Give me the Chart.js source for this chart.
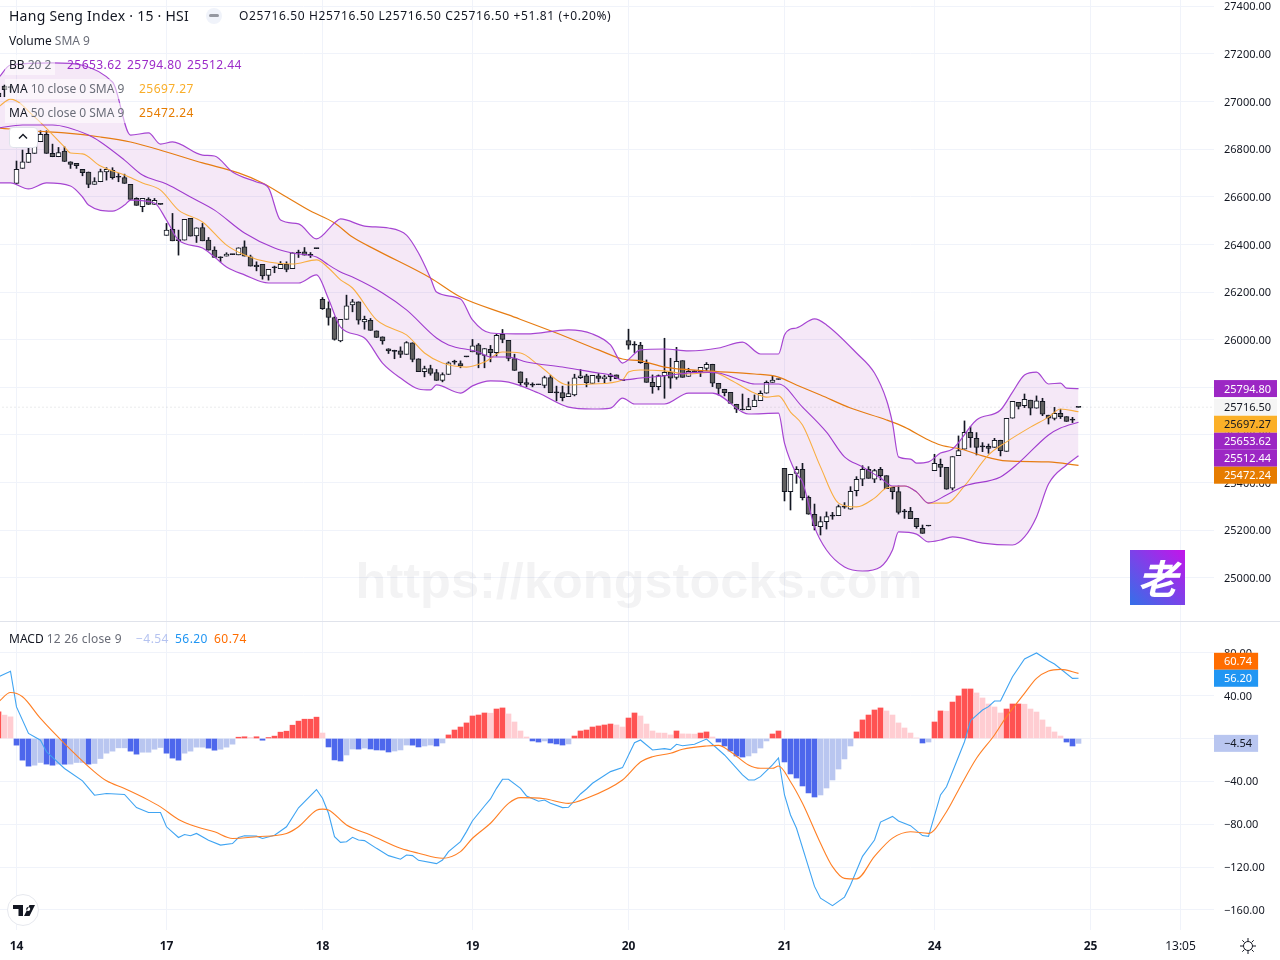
<!DOCTYPE html>
<html>
<head>
<meta charset="utf-8">
<title>Hang Seng Index</title>
<script src="https://cdn.jsdelivr.net/npm/chart.js@4/dist/chart.umd.min.js"></script>
<style>
  html, body { margin: 0; padding: 0; background: #fff; overflow: hidden; }
  body { width: 1280px; height: 960px; position: relative; font-family: "Noto Sans", sans-serif; color: #131722; }
  canvas { position: absolute; left: 0; }
  #mainChart { top: 0; }
  #macdChart { top: 622px; }
  .divider { position: absolute; left: 0; top: 621px; width: 1280px; height: 1px; background: #e0e3eb; }
  .row { position: absolute; white-space: nowrap; font-size: 12px; line-height: 20px; height: 20px; }
  .row .dim { color: #6a6d78; }
  .fade { background: rgba(255,255,255,.55); padding: 0 4px; margin-left: -4px; display: inline-block; }
  .title { font-size: 14px; letter-spacing: .25px; }
  .num { letter-spacing: .45px; }
  .bb { color: #9c2ac8; }
  .collapse { position: absolute; left: 9px; top: 127px; width: 27px; height: 19px; background: #fff; border: 1px solid #e0e3eb; border-radius: 4px; }
  .collapse svg { position: absolute; left: 8px; top: 5px; }
  .dash { position: absolute; left: 206px; top: 8px; width: 16px; height: 16px; border-radius: 50%; background: #f0f3fa; }
  .dash i { position: absolute; left: 3px; top: 6px; width: 10px; height: 3px; border-radius: 2px; background: #9598a1; }
  .logo { position: absolute; left: 1130px; top: 550px; width: 55px; height: 55px; background: linear-gradient(45deg, #3470e8, #c414ea); color: #fff; font: 700 40px/55px "Noto Sans CJK SC", sans-serif; text-align: center; font-style: italic; }
  .tv { position: absolute; left: 6px; top: 893px; }
  .gear { position: absolute; left: 1239px; top: 937px; }
</style>
</head>
<body>
<canvas id="mainChart" width="1280" height="621"></canvas>
<div class="divider"></div>
<canvas id="macdChart" width="1280" height="338"></canvas>

<div class="row title" style="left:9px;top:6px">Hang Seng Index · 15 · HSI</div>
<div class="dash"><i></i></div>
<div class="row num" style="left:239px;top:6px;letter-spacing:.62px">O25716.50 H25716.50 L25716.50 C25716.50 +51.81 (+0.20%)</div>
<div class="row" style="left:9px;top:31px">Volume <span class="dim">SMA 9</span></div>
<div class="row" style="left:9px;top:55px"><span class="fade">BB <span class="dim">20 2</span></span><span class="bb num" style="position:absolute;left:58px">25653.62</span><span class="bb num" style="position:absolute;left:118px">25794.80</span><span class="bb num" style="position:absolute;left:178px">25512.44</span></div>
<div class="row" style="left:9px;top:79px"><span class="fade">MA <span class="dim">10 close 0 SMA 9</span></span><span class="num" style="color:#f9ae2a;position:absolute;left:130px">25697.27</span></div>
<div class="row" style="left:9px;top:103px"><span class="fade">MA <span class="dim">50 close 0 SMA 9</span></span><span class="num" style="color:#e67c00;position:absolute;left:130px">25472.24</span></div>
<div class="collapse"><svg width="10" height="7" viewBox="0 0 10 7"><path d="M1 5.5 L5 1.5 L9 5.5" fill="none" stroke="#131722" stroke-width="1.4"/></svg></div>
<div class="row" style="left:9px;top:629px">MACD <span class="dim" style="letter-spacing:.2px">12 26 close 9</span><span class="num" style="color:#b5c3f0;position:absolute;left:127px">−4.54</span><span class="num" style="color:#2196f3;position:absolute;left:166px">56.20</span><span class="num" style="color:#ff6d00;position:absolute;left:205px">60.74</span></div>

<div class="logo">老</div>
<svg class="tv" width="34" height="34" viewBox="0 0 34 34">
  <circle cx="17" cy="17" r="15.5" fill="#fff" stroke="#e6e8ee" stroke-width="1"/>
  <path d="M7 12 H17 V23 H12.5 V16 H7 Z M22.2 14 a2 2 0 1 0 .01 0 Z M23.5 12 H29 L23.5 23 H18 Z" fill="#131722"/>
</svg>
<svg class="gear" width="18" height="18" viewBox="0 0 18 18" fill="none" stroke="#131722" stroke-width="1">
  <circle cx="9" cy="9" r="4.5"/>
  <path d="M9 1v3M9 14v3M1 9h3M14 9h3M3.3 3.3l2.1 2.1M12.6 12.6l2.1 2.1M3.3 14.7l2.1-2.1M12.6 5.4l2.1-2.1"/>
</svg>

<script>
// bar number 0 is the first bar of the "14" session
const firstBar = -3

const opens = [27035,27065,27062,
  26656,26719,26744,26782,26831,26862,26782,26768,26792,26747,
  26740,26715,26704,26652,26663,26704,26711,26686,26680,26652,
  26593,26558,26590,26568,26570,26438,26463,26420,26418,26509,
  26436,26471,26418,26376,26348,26351,26359,26356,26390,26348,
  26313,26316,26270,26304,26298,26316,26298,26366,26369,26356,
  26384,26169,26131,26093,25995,26085,26146,26159,26075,26081,
  26037,26012,25962,25955,25953,25938,25987,25920,25866,25879,
  25862,25829,25854,25908,25900,25930,25949,25978,25934,25959,
  25945,26022,25997,25921,25865,25820,25811,25813,25808,25841,
  25779,25778,25761,25768,25841,25848,25816,25848,25836,25845,
  25852,25830,25996,25979,25977,25901,25821,25803,25849,25863,
  25842,25912,25846,25867,25866,25879,25897,25817,25792,25779,
  25729,25707,25706,25719,25744,25775,25821,25835,25460,25362,
  25439,25456,25338,25267,25215,25236,25261,25261,25300,25288,
  25366,25414,25456,25414,25456,25429,25380,25362,25279,25279,
  25250,25208,25220,25450,25477,25464,25377,25513,25540,25611,
  25586,25552,25552,25548,25578,25531,25670,25737,25723,25746,
  25712,25741,25683,25669,25691,25677,25664,25716.5]
const highs = [27045,27069,27064,
  26750,26796,26824,26866,26877,26877,26821,26807,26810,26747,
  26740,26715,26704,26680,26716,26722,26722,26698,26695,26652,
  26596,26593,26596,26593,26570,26488,26530,26460,26505,26509,
  26470,26488,26429,26390,26348,26365,26359,26386,26415,26355,
  26327,26316,26295,26309,26328,26327,26365,26376,26387,26366,
  26384,26177,26159,26096,26085,26187,26169,26159,26099,26089,
  26037,26012,25962,25956,25970,25992,25987,25920,25889,25893,
  25875,25861,25907,25914,25911,25930,26001,25984,25963,25976,
  26023,26043,25997,25939,25865,25837,25819,25813,25847,25851,
  25805,25805,25823,25855,25875,25855,25850,25858,25851,25859,
  25852,25830,26044,25992,25989,25915,25852,25852,26006,25922,
  25968,25912,25880,25870,25884,25904,25897,25817,25792,25779,
  25729,25772,25754,25768,25785,25827,25849,25835,25460,25435,
  25467,25481,25344,25310,25257,25277,25275,25306,25316,25383,
  25425,25471,25467,25456,25464,25429,25380,25386,25288,25296,
  25250,25222,25220,25519,25499,25464,25509,25596,25659,25635,
  25610,25568,25562,25586,25578,25670,25741,25737,25772,25746,
  25764,25754,25683,25716,25708,25677,25674,25716.5]
const lows = [27010,27020,27040,
  26656,26719,26744,26782,26831,26782,26768,26768,26748,26719,
  26719,26688,26638,26652,26663,26670,26674,26663,26656,26589,
  26564,26537,26568,26568,26568,26438,26415,26355,26418,26435,
  26408,26415,26376,26345,26327,26351,26357,26356,26351,26309,
  26289,26254,26250,26281,26298,26285,26298,26345,26355,26345,
  26382,26127,26061,25998,25991,26085,26117,26065,26044,26039,
  26009,25981,25942,25920,25925,25938,25907,25866,25844,25851,
  25829,25823,25854,25897,25882,25928,25949,25882,25882,25907,
  25931,25987,25911,25871,25806,25802,25802,25811,25798,25778,
  25743,25743,25761,25764,25837,25802,25816,25823,25819,25827,
  25836,25828,25960,25946,25901,25821,25775,25789,25754,25796,
  25834,25842,25846,25862,25845,25870,25803,25768,25764,25732,
  25694,25705,25706,25719,25744,25775,25821,25833,25323,25285,
  25397,25327,25267,25201,25180,25205,25246,25261,25292,25288,
  25344,25387,25418,25400,25411,25375,25331,25268,25250,25249,
  25208,25187,25218,25450,25425,25372,25369,25513,25540,25548,
  25516,25530,25523,25548,25512,25531,25670,25709,25715,25684,
  25712,25681,25646,25663,25669,25657,25652,25716]
const closes = [27020,27050,27058,
  26715,26747,26782,26838,26862,26782,26768,26785,26748,26736,
  26730,26701,26652,26664,26706,26715,26680,26682,26656,26589,
  26564,26593,26568,26585,26568,26460,26415,26416,26505,26435,
  26470,26415,26376,26345,26344,26359,26357,26386,26351,26309,
  26306,26268,26295,26302,26316,26295,26365,26364,26355,26354,
  26382,26130,26093,26001,26085,26142,26159,26082,26085,26039,
  26009,25995,25953,25951,25938,25988,25917,25866,25879,25858,
  25829,25854,25903,25906,25890,25928,25974,25938,25963,25946,
  26018,26001,25921,25871,25820,25812,25809,25811,25841,25778,
  25777,25757,25774,25840,25848,25820,25850,25837,25844,25852,
  25836,25828,25977,25977,25904,25821,25803,25849,25863,25838,
  25909,25842,25867,25865,25884,25897,25817,25795,25778,25732,
  25708,25705,25719,25746,25775,25821,25830,25833,25362,25435,
  25456,25337,25267,25219,25236,25257,25259,25299,25297,25363,
  25414,25456,25418,25450,25429,25375,25362,25275,25277,25249,
  25215,25187,25218,25481,25464,25372,25509,25534,25611,25589,
  25548,25550,25544,25578,25534,25670,25741,25720,25750,25712,
  25743,25687,25670,25691,25677,25657,25662,25716]

// Bollinger upper band
const upperBars = [-3,-1,6,16,19,22,24,26,31,33,36,40,42,44,47,50,53,54,58,62,65,67,69,70,74,76,79,85,92,96,99,101,104,108,112,117,121,124,127,128,129,130,133,135,140,143,145,146,147,149,150,152,154,156,160,164,166,168,170,172,174,175,177]
const upperValues = [27099,27153,27162,27082,26859,26868,26821,26830,26775,26771,26704,26662,26637,26502,26486,26423,26490,26507,26477,26469,26439,26364,26259,26200,26171,26083,26028,26024,26041,26024,25978,25902,25957,25961,25953,25965,25990,25940,25940,26020,26045,26049,26087,26062,25944,25860,25747,25650,25508,25499,25482,25487,25524,25541,25663,25705,25780,25852,25864,25814,25818,25797,25794.8]
// Bollinger lower band
const lowerBars = [-3,-1,2,5,9,11,12,16,18,19,23,25,27,31,33,35,38,42,47,50,52,54,58,61,64,67,69,70,74,76,79,82,87,92,96,99,101,103,108,112,116,121,122,127,128,130,131,133,135,138,141,144,146,147,150,152,154,156,161,166,168,170,172,175,177]
const lowerValues = [26658,26658,26633,26658,26645,26599,26565,26540,26565,26586,26574,26502,26418,26385,26347,26305,26272,26238,26238,26272,26171,26053,26007,25902,25839,25793,25789,25810,25776,25806,25827,25822,25776,25717,25709,25713,25755,25730,25730,25776,25776,25696,25688,25692,25566,25436,25403,25214,25117,25046,25029,25046,25117,25193,25184,25151,25159,25172,25146,25138,25172,25256,25394,25474,25512.44]
// Bollinger basis
const basisBars = [-3,1,6,12,14,18,21,25,29,33,38,43,46,50,52,54,56,61,65,70,72,77,79,82,85,91,97,99,101,104,108,114,117,121,123,127,131,135,138,141,144,146,148,150,152,155,158,164,167,172,174,177]
const basisValues = [26889,26901,26901,26859,26830,26754,26691,26654,26599,26544,26448,26385,26364,26347,26314,26284,26263,26196,26125,26007,25978,25948,25927,25927,25906,25885,25860,25852,25831,25839,25848,25864,25860,25827,25814,25814,25717,25612,25508,25466,25419,25386,25386,25361,25314,25348,25386,25424,25482,25600,25629,25653.62]
// MA 10
const ma10Bars = [-3,-1,3,8,9,11,14,18,21,24,27,31,35,38,42,46,50,52,54,56,60,62,65,68,71,75,78,81,84,87,92,96,101,102,104,108,112,116,119,123,125,127,129,131,134,137,140,143,145,148,150,152,155,158,162,165,169,172,174,177]
const ma10Values = [26977,27010,26935,26809,26784,26780,26729,26691,26658,26628,26544,26494,26397,26356,26326,26318,26335,26301,26251,26217,26083,26053,26020,25944,25902,25885,25906,25948,25944,25894,25810,25814,25831,25864,25873,25869,25856,25864,25831,25776,25759,25764,25696,25642,25466,25314,25298,25335,25377,25386,25361,25314,25314,25386,25516,25571,25633,25675,25709,25697.27]
// MA 50
const ma50Bars = [-3,3,8,14,19,25,31,37,41,45,49,53,56,60,69,74,82,90,97,101,104,108,115,123,127,130,134,139,145,148,152,154,158,161,165,172,177]
const ma50Values = [26889,26876,26868,26851,26830,26788,26742,26700,26658,26599,26540,26490,26431,26376,26259,26179,26104,26028,25957,25919,25911,25885,25869,25856,25843,25810,25768,25713,25663,25633,25579,25558,25537,25512,25491,25487,25472.24]

// MACD histogram, one value a bar from firstBar
const histValues = [24.9,21.8,20.2,
  -6.2,-20.2,-25.8,-24.9,-22.4,-23.9,-24.9,-23.9,-24.0,-23.9,
  -22.4,-22.4,-23.9,-23.3,-18.7,-13.7,-11.8,-8.7,-8.7,-11.8,
  -14.6,-12.8,-12.8,-10,-8.4,-13.7,-18.3,-20.2,-13.7,-11.8,
  -8.1,-8.1,-9,-10.9,-10,-8.1,-5.3,1.2,1.6,0.9,
  1.6,-1.6,0.9,2.2,5.9,6.8,12.4,16.2,18,18,
  19.9,5.1,-7.9,-20,-21,-15.4,-9.8,-9.9,-8.9,-9.8,
  -10.7,-10.8,-12.6,-11.7,-10.7,-6.1,-6.2,-7.9,-7,-6.1,
  -7,-4.2,3.3,7.9,10.7,14.5,21,21.9,23.8,23.6,
  27.5,28.5,22.9,15.4,7,1.4,-2.3,-3.3,-2.3,-4.2,
  -5.1,-6.1,-5.1,2.3,7,7.9,10.7,11.7,12.6,13.5,
  12.6,10.7,19.1,23.8,21,13.5,7,5.1,5.0,3.3,
  7,4.3,4.2,4.1,5.1,6.1,1.4,-3.3,-7,-11.7,
  -16.3,-17.3,-16.3,-13.5,-8.9,-2.3,4.2,7,-21.9,-33.1,
  -36.9,-44.3,-50.8,-54.6,-52.7,-46.2,-38.7,-28.5,-19.1,-7,
  6.1,17.3,21.9,26.6,28.5,25.7,21.9,14.5,9.8,5.1,
  0.5,-4.2,-3.3,15.4,25.7,25.5,34,39.7,46.2,46.2,
  42.5,37.8,32.2,29.4,23.8,27.5,32.2,32.2,32,27.5,
  24.7,17.3,10.7,6.1,2.3,-3.3,-7,-4.54]
// MACD line
const macdBars = [-3,-1,0,2,4,5,8,11,13,15,18,20,22,24,25,27,28,29,30,32,34,36,37,38,40,41,43,45,47,50,51,52,53,54,55,56,57,58,60,62,64,65,66,67,70,71,72,74,75,76,78,79,80,81,82,84,85,87,88,89,91,92,94,95,96,99,101,103,104,106,108,109,110,111,113,115,118,121,122,123,124,126,127,128,129,130,133,134,136,138,139,141,143,144,146,147,149,151,152,154,155,158,159,161,162,163,164,166,168,170,172,173,176,177]
const macdValues = [57.5,62.8,29.5,4.7,-1.6,-12.4,-28,-39.5,-52.9,-51.3,-52.2,-64.4,-69,-69,-82.4,-92.4,-89.6,-90.8,-88.6,-94.9,-99.5,-98,-92.4,-90.8,-91.1,-93.3,-90.2,-82.4,-64.7,-47.6,-55.8,-69.8,-91.6,-96.9,-96.3,-92.2,-94.7,-95.3,-102.5,-109.3,-112.7,-108.7,-109.3,-113.7,-116.8,-113.4,-105.6,-96.2,-86.9,-76.7,-63,-56.4,-46.5,-38.1,-38.1,-46.5,-53.6,-58.6,-57.4,-60.5,-64.5,-64.2,-51.8,-47.1,-41.8,-30.9,-27.2,-3.9,-1.4,-10.7,-9.5,-10.4,-5.4,-6.7,-5.4,-0.5,-15.4,-34,-38.7,-38.7,-35.6,-24.7,-18.2,-52.7,-71.4,-83.8,-138,-149,-156,-148,-136.7,-110,-94.7,-78,-72.7,-77,-81.3,-90.6,-91.3,-52.7,-45,-3,16.6,26.6,29.7,35,35,57.7,74.2,79.8,72.6,69.5,56.1,56.2]
// signal line
const signalBars = [-3,-1,1,4,8,13,15,18,22,24,27,30,33,36,40,45,47,50,51,52,55,59,64,67,71,74,76,79,82,84,88,92,95,101,104,106,109,111,115,117,119,122,124,126,127,129,131,134,136,138,140,143,146,149,152,155,157,160,163,165,168,170,172,174,177]
const signalValues = [34.2,42.9,38.9,18.7,-4.7,-31.1,-39.5,-46.7,-57.5,-63.8,-75.6,-82.4,-87.1,-93.3,-91.7,-88.6,-82.4,-66.9,-65.9,-66.7,-80.7,-90,-102.5,-107,-111.8,-105.6,-93.1,-79.1,-60.5,-55.2,-56.2,-60.5,-55.8,-38.7,-22,-17,-13.8,-10.1,-7,-6.4,-12.3,-24.7,-27.8,-27.8,-25.7,-40.3,-60.5,-97.8,-119.6,-130.5,-131,-110,-93,-87,-88.5,-68.3,-48,-18.5,3.3,20.4,42.1,56.1,63,64.5,60.74]

const timeBars = [0,25,51,76,102,128,153,179,194]
const timeLabels = ['14','17','18','19','20','21','24','25','13:05']
const priceTicks = [25000,25200,25400,25600,25800,26000,26200,26400,26600,26800,27000,27200,27400]
const macdTicks = [80,40,0,-40,-80,-120,-160]

const lastPrice = 25716.5
const priceTagValues = [25794.8,25716.5,25697.27,25653.62,25512.44,25472.24]
const priceTagColors = ['#9c27c4','#f5f5f5','#fbb028','#9c27c4','#9c27c4','#e67c00']
const priceTagInk = ['#fff','#131722','#131722','#fff','#fff','#fff']
const macdTagValues = [60.74,56.2,-4.54]
const macdTagColors = ['#ff6d00','#2196f3','#b9c6f0']
const macdTagInk = ['#fff','#fff','#131722']

const AXIS_FONT = { family: '"Noto Sans", sans-serif', size: 11 }
const GRID = '#f0f3fa'
const INK = '#131722'

function pairs(bars, values) {
  return bars.map((b, i) => ({ x: b, y: values[i] }))
}

function fmt(v) {
  return (v < 0 ? '\u2212' : '') + Math.abs(v).toFixed(2)
}

// the plot has to fill its box right to the edge, label overhang must not shrink it
function noOverhang(s) {
  s.paddingTop = 0
  s.paddingBottom = 0
  s.paddingLeft = 0
  s.paddingRight = 0
}

// indicator line drawn through points
function smoothLine(bars, values, color, width) {
  return { type: 'line', data: pairs(bars, values), borderColor: color, borderWidth: width, pointRadius: 0,
    cubicInterpolationMode: 'monotone' }
}

// x pixel = 16.5 + 6 * bar, so that bodies and wicks sit on whole pixels
const xScale = {
  type: 'linear',
  min: -16.5 / 6,
  max: (1214 - 16.5) / 6,
  offset: false,
  border: { display: false },
  grid: { color: GRID, drawTicks: false, offset: false },
  afterBuildTicks: (s) => { s.ticks = timeBars.map((v) => ({ value: v })) },
}

function yScale(min, max, ticks) {
  return {
    type: 'linear',
    position: 'right',
    min, max,
    border: { display: false },
    grid: { color: GRID, drawTicks: false },
    ticks: { font: AXIS_FONT, color: INK, padding: 10, labelOffset: 1, callback: (v) => fmt(v) },
    afterBuildTicks: (s) => { s.ticks = ticks.map((v) => ({ value: v })) },
    afterFit: (s) => { s.width = 66; noOverhang(s) },
  }
}

// coloured value tags on the right axis, pushed apart when they would overlap
const axisTags = {
  id: 'axisTags',
  afterDraw(chart, args, opts) {
    const ctx = chart.ctx
    const y = chart.scales.y
    const h = 17
    const pos = opts.values.map((v) => y.getPixelForValue(v))
    if (opts.pushUp) {
      for (let i = pos.length - 2; i >= 0; i--) {
        if (pos[i] > pos[i + 1] - h) pos[i] = pos[i + 1] - h
      }
    } else {
      for (let i = 1; i < pos.length; i++) {
        if (pos[i] < pos[i - 1] + h) pos[i] = pos[i - 1] + h
      }
    }
    ctx.save()
    ctx.font = `${AXIS_FONT.size}px ${AXIS_FONT.family}`
    ctx.textBaseline = 'middle'
    opts.values.forEach((v, i) => {
      const text = fmt(v)
      const w = Math.max(opts.minWidth, ctx.measureText(text).width + 16)
      ctx.fillStyle = opts.colors[i]
      ctx.fillRect(1214, pos[i] - h / 2, w, h)
      ctx.fillStyle = opts.ink[i]
      ctx.textAlign = 'right'
      ctx.fillText(text, 1214 + w - 6, pos[i] + 1)
    })
    ctx.restore()
  },
}

const watermark = {
  id: 'watermark',
  beforeDatasetsDraw(chart) {
    const ctx = chart.ctx
    ctx.save()
    ctx.font = 'bold 50.5px "Liberation Sans", sans-serif'
    ctx.fillStyle = 'rgba(19,23,34,0.05)'
    ctx.textAlign = 'center'
    ctx.textBaseline = 'middle'
    ctx.fillText('https://kongstocks.com', 639, 584)
    ctx.restore()
  },
}

const barNumbers = opens.map((_, i) => firstBar + i)

new Chart(document.getElementById('mainChart'), {
  data: {
    datasets: [
      { ...smoothLine(upperBars, upperValues, '#a645d2', 1.2), fill: '+1', backgroundColor: 'rgba(156,39,176,0.105)' },
      smoothLine(lowerBars, lowerValues, '#a645d2', 1.2),
      smoothLine(basisBars, basisValues, '#a03ccf', 1.1),
      smoothLine(ma10Bars, ma10Values, '#f9ae42', 1.1),
      smoothLine(ma50Bars, ma50Values, '#e67c12', 1.2),
      { type: 'line', data: [{ x: -3, y: lastPrice }, { x: 200, y: lastPrice }], borderColor: 'rgba(120,123,134,0.3)', borderWidth: 1,
        borderDash: [1, 3], pointRadius: 0 },
      // candle bodies
      { type: 'bar', grouped: false, maxBarThickness: 5, barPercentage: 1, categoryPercentage: 1, minBarLength: 1,
        borderSkipped: false, borderWidth: 1, borderColor: INK,
        backgroundColor: barNumbers.map((_, i) => {
          if (Math.abs(opens[i] - closes[i]) <= 4) return INK
          return closes[i] < opens[i] ? '#5f5f5f' : '#ffffff'
        }),
        data: barNumbers.map((b, i) => ({ x: b, y: [opens[i], closes[i]] })) },
      // candle wicks
      { type: 'bar', grouped: false, maxBarThickness: 1, barPercentage: 1, categoryPercentage: 1,
        borderWidth: 0, backgroundColor: INK,
        data: barNumbers.map((b, i) => ({ x: b, y: [lows[i], highs[i]] })) },
    ],
  },
  options: {
    responsive: false,
    animation: false,
    events: [],
    layout: { padding: 0 },
    scales: {
      x: { ...xScale, ticks: { display: false }, afterFit: (s) => { s.height = 0; noOverhang(s) } },
      y: yScale(27426 - 4.198 * 621, 27426, priceTicks),
    },
    plugins: {
      legend: { display: false },
      tooltip: { enabled: false },
      filler: { drawTime: 'beforeDatasetsDraw' },
      axisTags: { values: priceTagValues, colors: priceTagColors, ink: priceTagInk, minWidth: 0 },
    },
  },
  plugins: [watermark, axisTags],
})

new Chart(document.getElementById('macdChart'), {
  data: {
    datasets: [
      smoothLine(signalBars, signalValues, '#ff7f24', 1.1),
      { type: 'line', data: pairs(macdBars, macdValues), borderColor: '#3fa4f2', borderWidth: 1.1, pointRadius: 0 },
      { type: 'bar', grouped: false, maxBarThickness: 5, barPercentage: 1, categoryPercentage: 1, borderWidth: 0,
        backgroundColor: histValues.map((v, i) => {
          const rising = i === 0 || v >= histValues[i - 1]
          if (v >= 0) return rising ? '#ff5252' : '#ffcdd2'
          return rising ? '#b9c6f0' : '#4d67ec'
        }),
        data: histValues.map((v, i) => ({ x: firstBar + i, y: v })) },
    ],
  },
  options: {
    responsive: false,
    animation: false,
    events: [],
    layout: { padding: 0 },
    scales: {
      x: {
        ...xScale,
        ticks: {
          autoSkip: false,
          maxRotation: 0,
          padding: 9,
          color: INK,
          font: (c) => ({ family: AXIS_FONT.family, size: 12, weight: c.tick && c.tick.value === 194 ? 'normal' : 'bold' }),
          callback: (v) => timeLabels[timeBars.indexOf(v)],
        },
        afterFit: (s) => { s.height = 30; noOverhang(s) },
      },
      y: yScale(-178.7, 108.7, macdTicks),
    },
    plugins: {
      legend: { display: false },
      tooltip: { enabled: false },
      axisTags: { values: macdTagValues, colors: macdTagColors, ink: macdTagInk, minWidth: 44, pushUp: true },
    },
  },
  plugins: [axisTags],
})
</script>
</body>
</html>
